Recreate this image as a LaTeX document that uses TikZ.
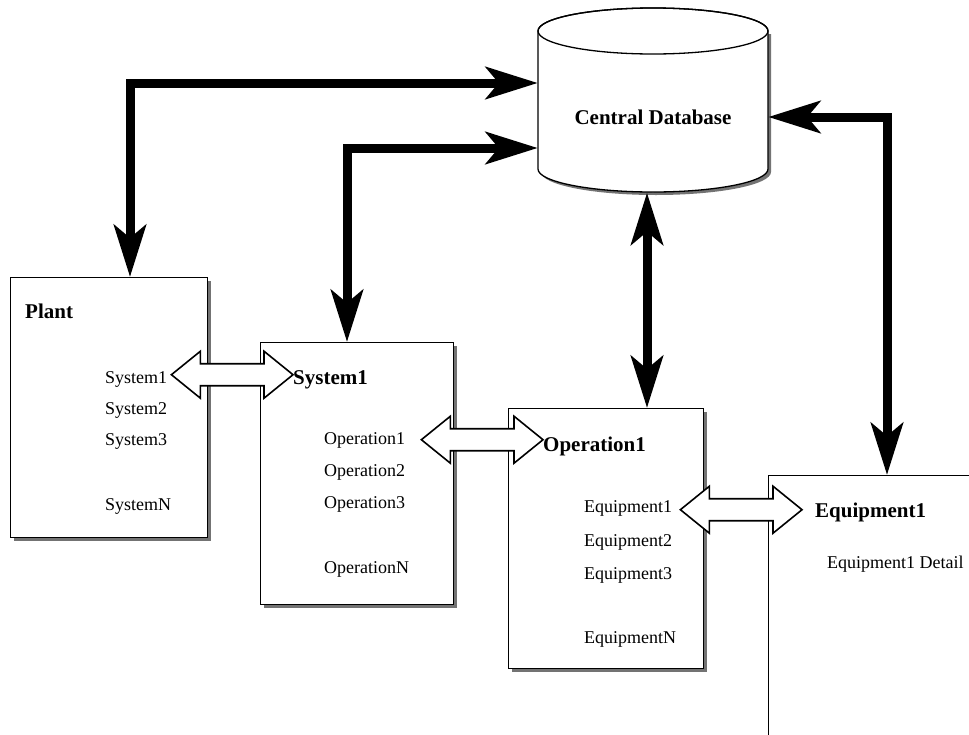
\documentclass[tikz,border=0pt]{standalone}
\usepackage{fontspec}
\setmainfont{Liberation Serif}
\usetikzlibrary{arrows.meta,calc,shadows}
\definecolor{ShadowClr}{gray}{0.45}

\tikzset{fattip/.tip={Stealth[length=52pt,width=32pt,inset=13pt]}}
\tikzset{
  box/.style={draw=black,line width=1.3pt,fill=white,inner sep=0pt,
    drop shadow={shadow xshift=3.5pt,shadow yshift=-3.5pt,fill=ShadowClr,opacity=1}},
  item/.style={anchor=base west,inner sep=0pt,font=\fontsize{18}{20}\selectfont},
  title/.style={anchor=base west,inner sep=0pt,font=\fontsize{21}{24}\selectfont\bfseries},
  fat/.style={line width=9pt,line join=miter,fattip-fattip},
  hollow/.style={draw=black,fill=white,line width=1.6pt,line join=miter}
}

\newcommand\hollowarrow[2]{%
  \draw[hollow] (#1) -- ++(29,-23.5) -- ++(0,12.5) -- ($(#2)+(-29,-11)$) -- ++(0,-12.5)
    -- (#2) -- ++(-29,23.5) -- ++(0,-12.5) -- ($(#1)+(29,11)$) -- ++(0,12.5) -- cycle;}

\begin{document}
\begin{tikzpicture}[x=1pt,y=-1pt]
\clip (0,0) rectangle (969,734);

\fill[ShadowClr] (771,34) -- (771,172) arc[start angle=0,end angle=180,x radius=115,y radius=23] -- (541,34) -- cycle;
\filldraw[fill=white,line width=1.3pt] (538,31) -- (538,169) arc[start angle=180,end angle=0,x radius=115,y radius=23]
  -- (768,31) arc[start angle=0,end angle=-180,x radius=115,y radius=23] -- cycle;
\draw[line width=1.3pt] (653,31) ellipse[x radius=115,y radius=23];
\node[minimum width=230,minimum height=185,inner sep=0pt] (db) at (653,100) {};
\node[title,anchor=base] (dbt) at (653,124) {Central Database};

\node[box,anchor=north west,minimum width=197,minimum height=260] (plant) at (10,277) {};
\node[box,anchor=north west,minimum width=193,minimum height=262] (sys) at (260,342) {};
\node[box,anchor=north west,minimum width=195,minimum height=260] (op) at (508,408) {};
\node[box,anchor=north west,minimum width=260,minimum height=320] (eq) at (768,475) {};

\coordinate (c1) at (130,83);
\coordinate (c2) at (347,148);
\coordinate (c3) at (887,117);
\coordinate (c4) at (647,300);
\draw[fat] (db.west |- c1) -- (c1) -- (plant.north -| c1);
\draw[fat] (db.west |- c2) -- (c2) -- (sys.north -| c2);
\draw[fat] (db.east |- c3) -- (c3) -- (eq.north -| c3);
\draw[fat] (db.south -| c4) -- (op.north -| c4);

\node[title] (plantt) at (25,318) {Plant};
\node[item] (s1) at (105,383) {System1};
\node[item] (s2) at (105,414) {System2};
\node[item] (s3) at (105,445) {System3};
\node[item] (sn) at (105,510) {SystemN};

\node[title] (syst) at (293,384) {System1};
\node[item] (o1) at (324,444) {Operation1};
\node[item] (o2) at (324,476) {Operation2};
\node[item] (o3) at (324,508) {Operation3};
\node[item] (on) at (324,573) {OperationN};

\node[title] (opt) at (543,451) {Operation1};
\node[item] (e1) at (584,512) {Equipment1};
\node[item] (e2) at (584,546) {Equipment2};
\node[item] (e3) at (584,579) {Equipment3};
\node[item] (en) at (584,643) {EquipmentN};

\node[title] (eqt) at (815,517) {Equipment1};
\node[item] (eqd) at (827,568) {Equipment1 Detail};

\coordinate (a1) at ([shift={(4,-6)}]s1.mid east);
\coordinate (b1) at (a1 -| syst.west);
\coordinate (a2) at ([shift={(16,-2)}]o1.mid east);
\coordinate (b2) at (a2 -| opt.west);
\coordinate (a3) at ([xshift=8pt]e1.mid east);
\coordinate (b3) at ($(a3 -| eqt.west)+(-13,0)$);
\hollowarrow{a1}{b1}
\hollowarrow{a2}{b2}
\hollowarrow{a3}{b3}

\end{tikzpicture}
\end{document}
